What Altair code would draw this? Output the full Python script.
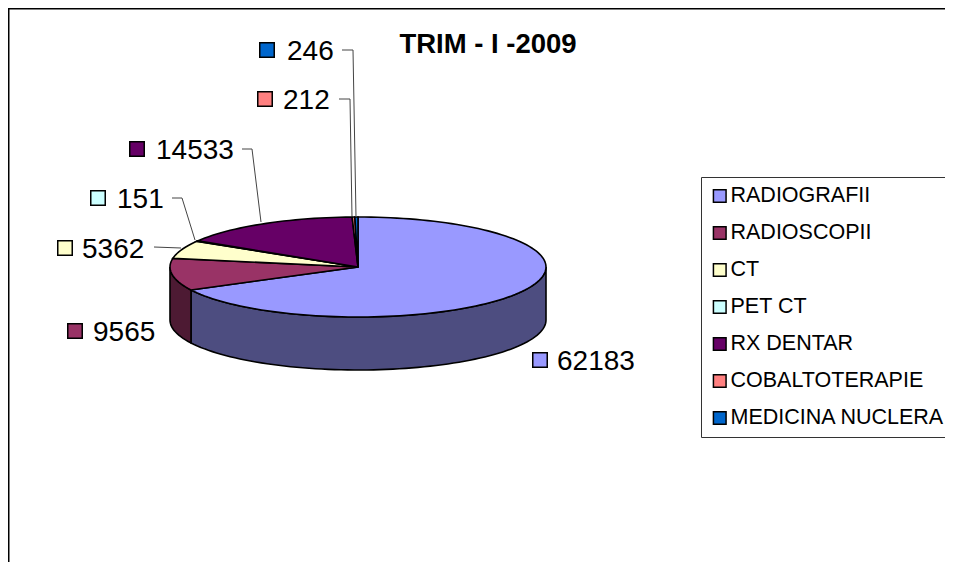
import math
import altair as alt
import pandas as pd

categories = ["RADIOGRAFII", "RADIOSCOPII", "CT", "PET CT", "RX DENTAR", "COBALTOTERAPIE", "MEDICINA NUCLERA"]
values = [62183, 9565, 5362, 151, 14533, 212, 246]
colors = ["#9999FF", "#993366", "#FFFFCC", "#CCFFFF", "#660066", "#FF8080", "#0066CC"]
wall_colors = ["#4D4D80", "#4D1A33", "#808066", "#668080", "#330033", "#804040", "#003366"]
title_text = "TRIM - I -2009"

# layout (page pixels)
OFF = 8
CX, CY, RX, RY, DEPTH = 358 - OFF, 267 - OFF, 188, 50, 53
swatch_x = [540, 75, 65, 98, 137, 265, 267]
swatch_y = [360, 331, 248, 198, 149, 99, 50]
label_x = [557, 93, 82, 117, 156, 283, 287]
leaders = {
    "CT": [(154, 247), (181, 248)],
    "PET CT": [(172, 198), (182, 198), (195, 240)],
    "RX DENTAR": [(242, 149), (252, 149), (261, 222)],
    "COBALTOTERAPIE": [(339, 99), (350, 99), (352, 217)],
    "MEDICINA NUCLERA": [(342, 50), (353, 50), (356, 217)],
}


def pt(deg, drop=0):
    a = math.radians(deg)
    return [CX + RX * math.sin(a), CY - RY * math.cos(a) + drop]


def arc(a0, a1, drop=0):
    n = max(2, int(abs(a1 - a0) / 2) + 2)
    return [pt(a0 + (a1 - a0) * i / (n - 1), drop) for i in range(n)]


total = sum(values)
tops, walls, cum = [], [], 0.0
for name, v, wc in zip(categories, values, wall_colors):
    a0 = cum / total * 360
    cum += v
    a1 = cum / total * 360
    ring = [[CX, CY]] + arc(a0, a1) + [[CX, CY]]
    tops.append({"type": "Feature", "properties": {"name": name},
                 "geometry": {"type": "Polygon", "coordinates": [ring]}})
    w0, w1 = max(a0, 90), min(a1, 270)
    if w1 > w0:
        ring = arc(w0, w1) + arc(w1, w0, DEPTH)
        ring.append(ring[0])
        walls.append((wc, {"type": "Feature", "properties": {"name": name},
                           "geometry": {"type": "Polygon", "coordinates": [ring]}}))

proj = alt.Projection(type="identity", scale=1, translate=[0, 0])

layers = []
for wc, feat in walls:
    layers.append(
        alt.Chart(alt.Data(values=[feat]))
        .mark_geoshape(fill=wc, stroke="black", strokeWidth=1.6)
        .project(**proj.to_dict())
    )

color = alt.Color(
    "properties.name:N",
    scale=alt.Scale(domain=categories, range=colors),
    legend=alt.Legend(
        title=None, orient="none", legendX=693, legendY=169,
        symbolType="square", symbolSize=160, symbolStrokeColor="black", symbolStrokeWidth=1.5,
        symbolOpacity=1, labelFont="Liberation Sans", labelFontSize=21.5, labelColor="black",
        labelLimit=400, labelOffset=0, rowPadding=15, padding=8, clipHeight=22,
        strokeColor="#333333", fillColor="white", values=categories,
    ),
)
layers.append(
    alt.Chart(alt.Data(values=tops))
    .mark_geoshape(stroke="black", strokeWidth=1.6)
    .encode(fill=color)
    .project(**proj.to_dict())
)

X = lambda f: alt.X(f, type="quantitative", scale=None, axis=None)
Y = lambda f: alt.Y(f, type="quantitative", scale=None, axis=None)

rows = []
for name, pts in leaders.items():
    for i, (x, y) in enumerate(pts):
        rows.append({"name": name, "i": i, "x": x - OFF, "y": y - OFF})
layers.append(
    alt.Chart(pd.DataFrame(rows))
    .mark_line(stroke="#444444", strokeWidth=1)
    .encode(x=X("x"), y=Y("y"), detail="name:N", order="i:Q")
)

labels = pd.DataFrame({
    "name": categories, "value": values,
    "sx": [v - OFF for v in swatch_x], "sy": [v - OFF for v in swatch_y],
    "lx": [v - OFF for v in label_x],
    "fill": colors,
})
layers.append(
    alt.Chart(labels)
    .mark_square(size=210, stroke="black", strokeWidth=1.5, opacity=1)
    .encode(x=X("sx"), y=Y("sy"), fill=alt.Fill("fill:N", scale=None, legend=None))
)
layers.append(
    alt.Chart(labels)
    .mark_text(align="left", baseline="middle", font="Liberation Sans", fontSize=28, color="black", dy=2)
    .encode(x=X("lx"), y=Y("sy"), text="value:N")
)
layers.append(
    alt.Chart(pd.DataFrame({"t": [title_text]}))
    .mark_text(align="center", baseline="middle", font="Liberation Sans", fontSize=27.5, fontWeight="bold", color="black")
    .encode(x=alt.value(488 - OFF), y=alt.value(45 - OFF), text="t:N")
)
layers.append(
    alt.Chart(pd.DataFrame({"a": [0]})).mark_rule(color="black", strokeWidth=3)
    .encode(x=alt.value(0), y=alt.value(0), y2=alt.value(554))
)
layers.append(
    alt.Chart(pd.DataFrame({"a": [0]})).mark_rule(color="black", strokeWidth=3)
    .encode(y=alt.value(0), x=alt.value(0), x2=alt.value(937))
)

chart = (
    alt.layer(*layers)
    .resolve_scale(fill="independent")
    .properties(width=937, height=554, padding=0, autosize=alt.AutoSizeParams(type="none"))
    .configure_view(stroke=None)
)
chart.save("out.html", embed_options={"renderer": "svg", "actions": False})
